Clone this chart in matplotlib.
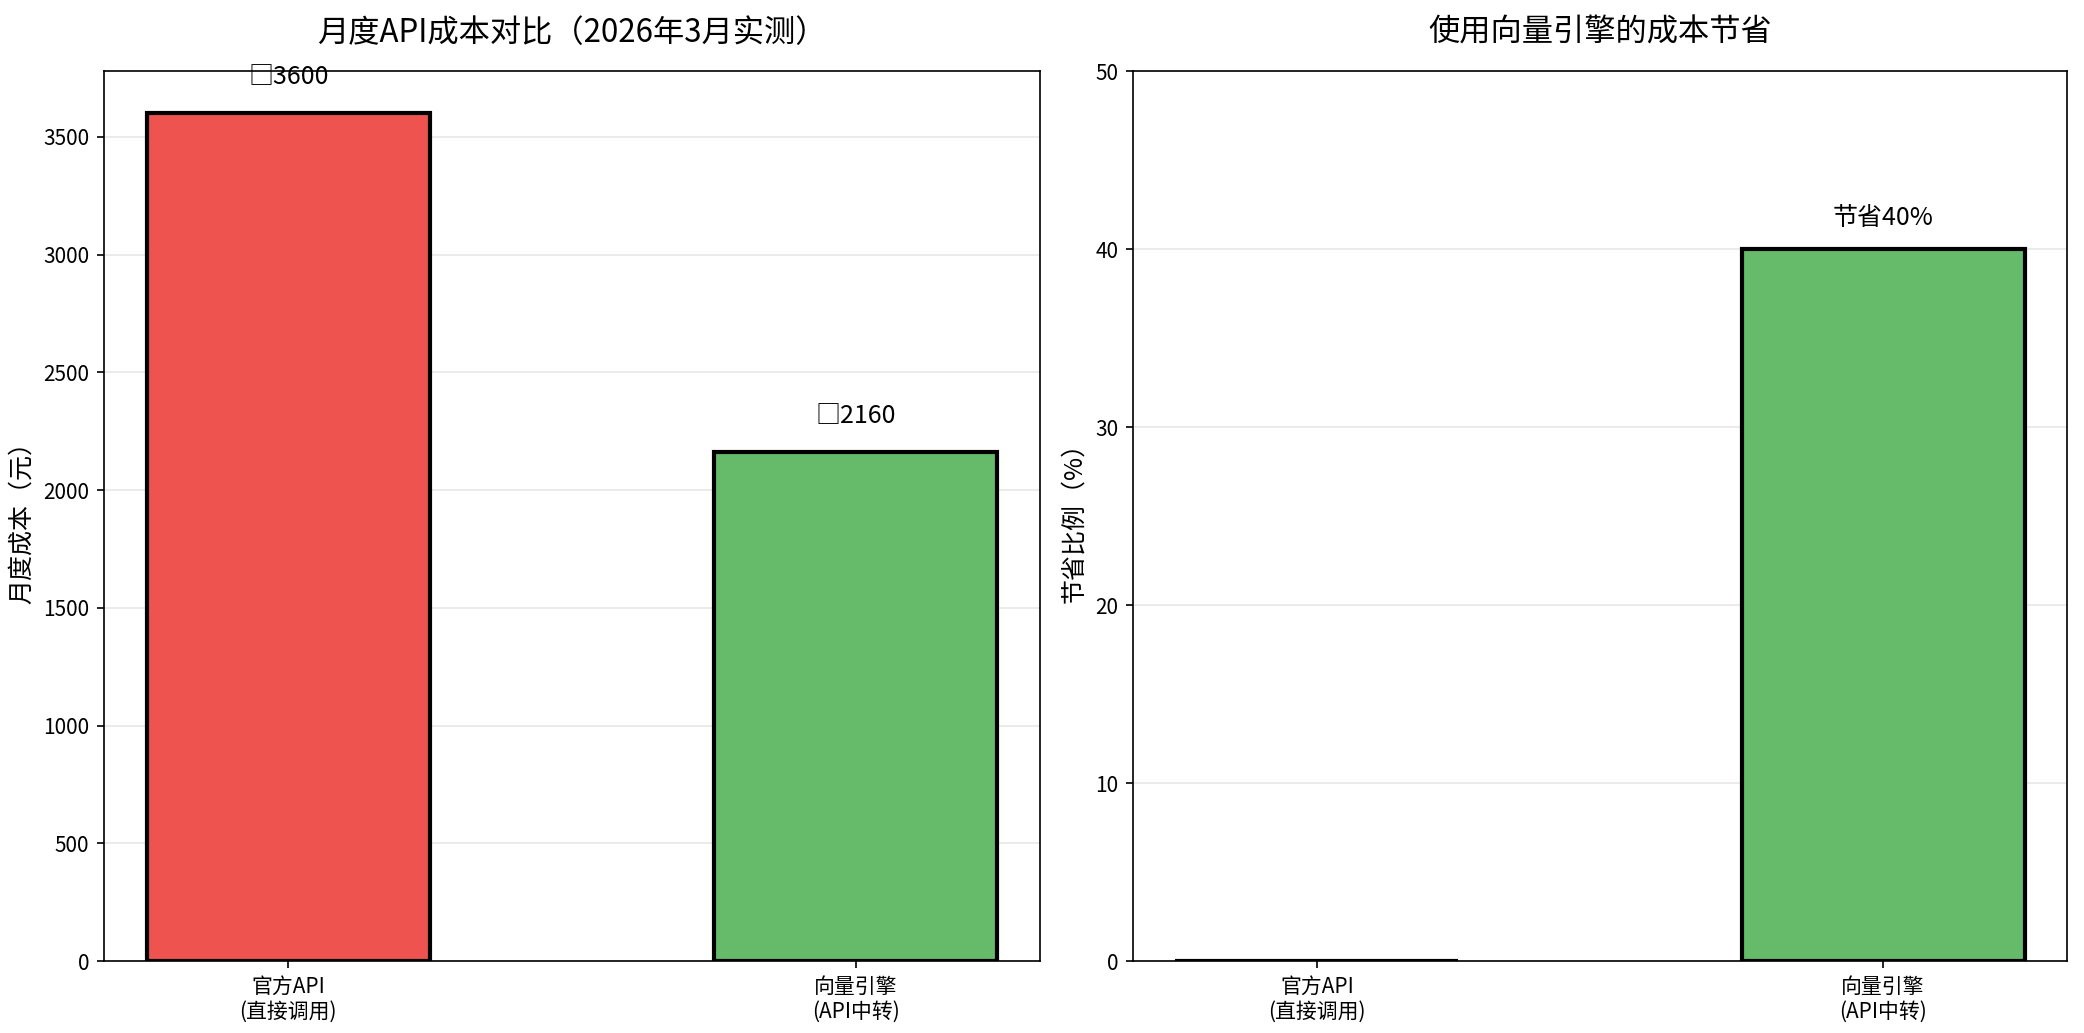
#!/usr/bin/env python3

import matplotlib
matplotlib.use("Agg")
import matplotlib.pyplot as plt

plt.rcParams["font.family"] = ["Noto Sans CJK SC", "DejaVu Sans"]
plt.rcParams["axes.unicode_minus"] = False

categories = ["官方API\n(直接调用)", "向量引擎\n(API中转)"]
monthly_cost = [3600, 2160]
cost_labels = ["□3600", "□2160"]
saving_pct = [0, 40]
saving_labels = ["", "节省40%"]
bar_colors = ["#EF5350", "#66BB6A"]


def main() -> None:
    fig = plt.figure(figsize=(2084 / 150, 1033 / 150), dpi=150)
    ax1 = fig.add_axes([104 / 2084, 1 - 961 / 1033, 936 / 2084, 890 / 1033])
    ax2 = fig.add_axes([1133 / 2084, 1 - 961 / 1033, 934 / 2084, 890 / 1033])

    x = range(len(categories))

    # left: monthly cost
    ax1.bar(x, monthly_cost, width=0.5, color=bar_colors, edgecolor="black", linewidth=2)
    for i, (v, lab) in enumerate(zip(monthly_cost, cost_labels)):
        ax1.text(i, v + 100, lab, ha="center", va="bottom", fontsize=12)
    ax1.set_xticks(list(x))
    ax1.set_xticklabels(categories, fontsize=10)
    ax1.set_ylabel("月度成本（元）", fontsize=12)
    ax1.set_title("月度API成本对比（2026年3月实测）", fontsize=15, pad=14)
    ax1.grid(axis="y", alpha=0.3)
    ax1.set_axisbelow(True)

    # right: saving percentage
    ax2.bar(x, saving_pct, width=0.5, color=bar_colors[1], edgecolor="black", linewidth=2)
    for i, (v, lab) in enumerate(zip(saving_pct, saving_labels)):
        if lab:
            ax2.text(i, v + 1, lab, ha="center", va="bottom", fontsize=12)
    ax2.set_xticks(list(x))
    ax2.set_xticklabels(categories, fontsize=10)
    ax2.set_ylabel("节省比例（%）", fontsize=12)
    ax2.set_title("使用向量引擎的成本节省", fontsize=15, pad=14)
    ax2.set_ylim(0, 50)
    ax2.grid(axis="y", alpha=0.3)
    ax2.set_axisbelow(True)

    fig.savefig("out.png", dpi=150)


if __name__ == "__main__":
    main()
